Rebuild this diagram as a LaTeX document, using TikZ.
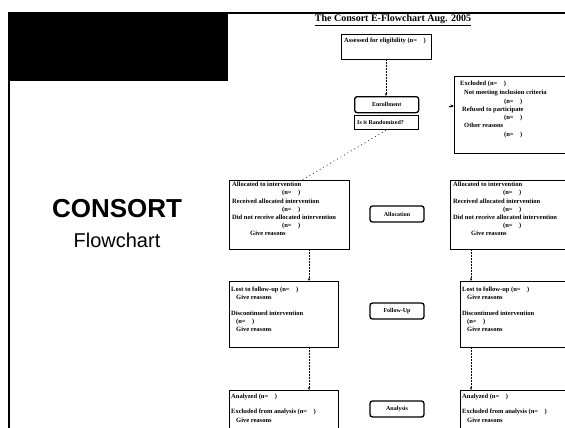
\documentclass[tikz,border=0pt]{standalone}
\usepackage{fontspec}
\setmainfont{Liberation Serif}
\newfontfamily\headfont{Liberation Sans}
\usetikzlibrary{arrows.meta}

\tikzset{
  panel/.style={draw, line width=1.3pt, anchor=north west, inner sep=0pt},
  tag/.style={draw, line width=1.3pt, rounded corners=2.5pt, minimum width=54pt,
              minimum height=16pt, inner sep=0pt, font=\bfseries\fontsize{6}{6.5}\selectfont},
  body/.style={anchor=north west, align=left, inner sep=0pt,
               font=\bfseries\fontsize{6.5}{8.2}\selectfont},
  link/.style={line width=0.5pt, densely dotted, -{Stealth[length=3pt,width=2.4pt]}},
  sparse/.style={line width=0.7pt, dash pattern=on 0.8pt off 3.2pt},
}

\begin{document}
\begin{tikzpicture}[x=1pt,y=-1pt]
\useasboundingbox (0,0) rectangle (565,428);
\clip (0,0) rectangle (565,428);

% slide frame: dark header block, top rule and left rule
\fill (8,12) rectangle (228,81);
\draw[line width=2pt] (8,13) -- (565,13);
\draw[line width=2.5pt] (9,12) -- (9,428);

% slide heading
\node[font=\headfont\bfseries\fontsize{26}{28}\selectfont] (brand) at (117,209) {CONSORT};
\node[font=\headfont\fontsize{20}{22}\selectfont] (brandsub) at (117,240) {Flowchart};

% chart title
\node[font=\bfseries\fontsize{10}{12}\selectfont] (title) at (393,20) {\underline{The Consort E-Flowchart Aug. 2005}};

% enrollment stage
\node[panel, minimum width=90pt, minimum height=25pt] (assess) at (341,34) {};
\node[body] (assesstxt) at (344,38) {Assessed for eligibility (n=\ \ \ \ )};

\node[tag, minimum width=64pt, minimum height=16pt, anchor=north west] (enroll) at (354,96) {Enrollment};
\node[draw, line width=1.3pt, minimum width=64pt, minimum height=14pt, anchor=north west,
      inner sep=0pt] (random) at (354,115) {};
\node[body, font=\bfseries\fontsize{6}{6.5}\selectfont] (randomtxt) at (357,120) {Is it Randomized?};

\node[panel, minimum width=125pt, minimum height=77pt] (excl) at (454,76) {};
\node[body] (excltxt) at (460,81) {Excluded (n=\ \ \ \ )\\[1pt]
  \hspace*{4pt}Not meeting inclusion criteria\\
  \hspace*{44pt}(n=\ \ \ \ )\\
  \hspace*{2pt}Refused to participate\\
  \hspace*{44pt}(n=\ \ \ \ )\\
  \hspace*{4pt}Other reasons\\[1pt]
  \hspace*{44pt}(n=\ \ \ \ )};

% allocation stage
\node[panel, minimum width=120pt, minimum height=69pt] (allocL) at (229,180) {};
\node[body] (allocLtxt) at (232,182) {Allocated to intervention\\
  \hspace*{50pt}(n=\ \ \ \ )\\
  Received allocated intervention\\
  \hspace*{50pt}(n=\ \ \ \ )\\
  Did not receive allocated intervention\\
  \hspace*{50pt}(n=\ \ \ \ )\\
  \hspace*{18pt}Give reasons};

\node[tag] (allocTag) at (397,214) {Allocation};

\node[panel, minimum width=125pt, minimum height=69pt] (allocR) at (450,180) {};
\node[body] (allocRtxt) at (453,182) {Allocated to intervention\\
  \hspace*{50pt}(n=\ \ \ \ )\\
  Received allocated intervention\\
  \hspace*{50pt}(n=\ \ \ \ )\\
  Did not receive allocated intervention\\
  \hspace*{50pt}(n=\ \ \ \ )\\
  \hspace*{18pt}Give reasons};

% follow-up stage
\node[panel, minimum width=109pt, minimum height=66pt] (followL) at (229,281) {};
\node[body] (followLtxt) at (231,287) {Lost to follow-up (n=\ \ \ \ )\\
  \hspace*{5pt}Give reasons\\[7pt]
  Discontinued intervention\\
  \hspace*{5pt}(n=\ \ \ \ )\\
  \hspace*{5pt}Give reasons};

\node[tag] (followTag) at (397,311) {Follow-Up};

\node[panel, minimum width=115pt, minimum height=66pt] (followR) at (460,281) {};
\node[body] (followRtxt) at (462,287) {Lost to follow-up (n=\ \ \ \ )\\
  \hspace*{5pt}Give reasons\\[7pt]
  Discontinued intervention\\
  \hspace*{5pt}(n=\ \ \ \ )\\
  \hspace*{5pt}Give reasons};

% analysis stage
\node[panel, minimum width=109pt, minimum height=60pt] (anaL) at (229,390) {};
\node[body] (anaLtxt) at (231,394) {Analyzed (n=\ \ \ \ )\\[7pt]
  Excluded from analysis (n=\ \ \ \ )\\
  \hspace*{5pt}Give reasons};

\node[tag] (anaTag) at (397,409) {Analysis};

\node[panel, minimum width=115pt, minimum height=60pt] (anaR) at (460,390) {};
\node[body] (anaRtxt) at (462,394) {Analyzed (n=\ \ \ \ )\\[7pt]
  Excluded from analysis (n=\ \ \ \ )\\
  \hspace*{5pt}Give reasons};

% connectors
\coordinate (trunk) at (386,0);
\coordinate (colL) at (309,0);
\coordinate (colR) at (471,0);
\coordinate (exclIn) at (449,106);
\coordinate (allocIn) at (302,180);

\draw[link] (assess.south -| trunk) -- (enroll.north -| trunk);
\draw[line width=0.5pt, -{Stealth[length=3.5pt,width=3pt]}] (exclIn) -- (excl.west |- exclIn);
\draw[sparse] (random.south -| trunk) -- (allocIn);
\draw[link] (allocL.south -| colL) -- (followL.north -| colL);
\draw[link] (allocR.south -| colR) -- (followR.north -| colR);
\draw[link] (followL.south -| colL) -- (anaL.north -| colL);
\draw[link] (followR.south -| colR) -- (anaR.north -| colR);
\end{tikzpicture}
\end{document}
